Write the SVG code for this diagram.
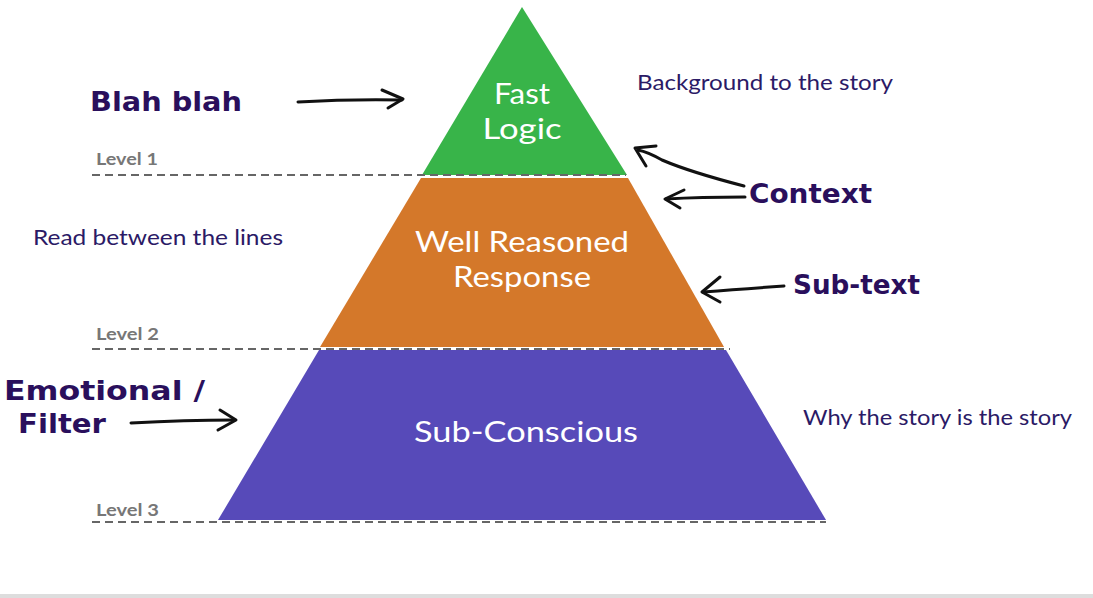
<svg xmlns="http://www.w3.org/2000/svg" width="1093" height="598" viewBox="0 0 1093 598">
<defs>
<style>
.lvl{font-family:"Lato","Open Sans",sans-serif;font-weight:bold;font-size:17px;fill:#777}
.dash{stroke:#666;stroke-width:2;stroke-dasharray:8,5;fill:none}
.in{font-family:"Lato","Open Sans",sans-serif;font-size:29px;fill:#fff;text-anchor:middle}
.note{font-family:"Lato","Open Sans",sans-serif;font-size:21px;fill:#2b1a66}
.hand{font-family:"DejaVu Sans",sans-serif;font-weight:bold;font-size:26px;fill:#2a0f5c}
.arr{stroke:#111;stroke-width:3;fill:none;stroke-linecap:round;stroke-linejoin:round}
</style>
</defs>
<rect width="1093" height="598" fill="#fff"/>
<rect x="0" y="594" width="1093" height="4" fill="#ddd"/>
<g id="level1">
<polygon points="522,7 627,175 422,175" fill="#38b449"/>
<text class="in" x="522" y="104" textLength="56" lengthAdjust="spacingAndGlyphs">Fast</text>
<text class="in" x="522" y="139" textLength="79" lengthAdjust="spacingAndGlyphs">Logic</text>
</g>
<g id="level2">
<polygon points="421,178 628,178 724,347 320,347" fill="#d4782a"/>
<text class="in" x="522" y="252" textLength="214" lengthAdjust="spacingAndGlyphs">Well Reasoned</text>
<text class="in" x="522" y="287" textLength="138" lengthAdjust="spacingAndGlyphs">Response</text>
</g>
<g id="level3">
<polygon points="319,350 726,350 826,520 218,520" fill="#574ab9"/>
<text class="in" x="526" y="442" textLength="224" lengthAdjust="spacingAndGlyphs">Sub-Conscious</text>
</g>
<g id="guides">
<line class="dash" x1="92" y1="175" x2="626" y2="175"/>
<line class="dash" x1="92" y1="349" x2="730" y2="349"/>
<line class="dash" x1="92" y1="522" x2="826" y2="522"/>
<text class="lvl" x="96" y="165" textLength="62" lengthAdjust="spacingAndGlyphs">Level 1</text>
<text class="lvl" x="96" y="340" textLength="63" lengthAdjust="spacingAndGlyphs">Level 2</text>
<text class="lvl" x="96" y="516" textLength="63" lengthAdjust="spacingAndGlyphs">Level 3</text>
</g>
<g id="notes">
<text class="note" x="637" y="90" textLength="256" lengthAdjust="spacingAndGlyphs">Background to the story</text>
<text class="note" x="33" y="245" textLength="250" lengthAdjust="spacingAndGlyphs">Read between the lines</text>
<text class="note" x="803" y="425" textLength="269" lengthAdjust="spacingAndGlyphs">Why the story is the story</text>
</g>
<g id="hand-labels">
<text class="hand" x="90" y="111" textLength="152" lengthAdjust="spacingAndGlyphs">Blah blah</text>
<text class="hand" x="749" y="203" textLength="123" lengthAdjust="spacingAndGlyphs">Context</text>
<text class="hand" x="793" y="294" textLength="127" lengthAdjust="spacingAndGlyphs">Sub-text</text>
<text class="hand" x="4" y="400" textLength="201" lengthAdjust="spacingAndGlyphs">Emotional /</text>
<text class="hand" x="18" y="433" textLength="88" lengthAdjust="spacingAndGlyphs">Filter</text>
</g>
<g id="connectors">
<path class="arr" d="M298,102 Q350,99 402,100"/>
<path class="arr" d="M382,90 L403,99 L388,108"/>
<path class="arr" d="M744,186 Q690,172 662,160 Q648,152 638,150"/>
<path class="arr" d="M656,146 L635,148 L646,166"/>
<path class="arr" d="M745,197 Q700,197 666,199"/>
<path class="arr" d="M684,190 L665,199 L680,208"/>
<path class="arr" d="M784,286 Q740,289 703,292"/>
<path class="arr" d="M720,277 L702,292 L720,302"/>
<path class="arr" d="M131,423 Q185,420 234,420"/>
<path class="arr" d="M220,410 L236,420 L218,430"/>
</g>
</svg>
